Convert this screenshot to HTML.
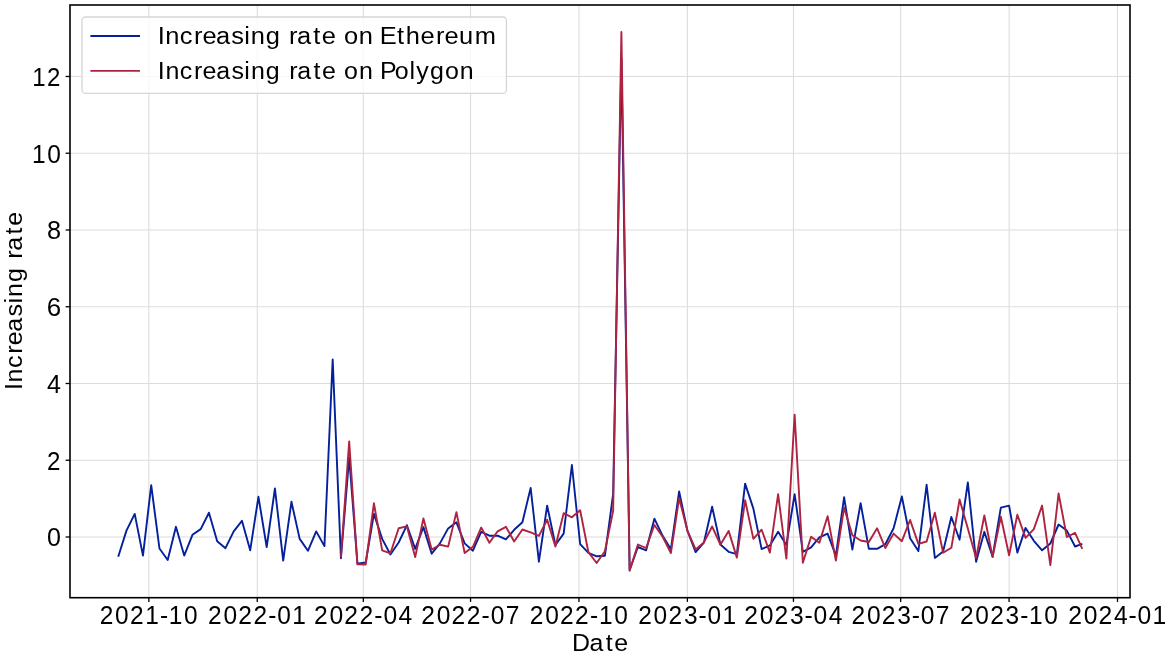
<!DOCTYPE html>
<html><head><meta charset="utf-8"><style>
html,body{margin:0;padding:0;background:#fff;}
body{width:1168px;height:660px;overflow:hidden;position:relative;}
svg{position:absolute;left:0;top:0;will-change:transform;}
text{font-family:"Liberation Sans",sans-serif;font-size:24.5px;fill:#000;}
</style></head><body>
<svg width="1168" height="660" viewBox="0 0 1168 660">
<rect x="0" y="0" width="1168" height="660" fill="#fff"/>
<g stroke="#dcdcdc" stroke-width="1.05">
<line x1="148.85" y1="5.0" x2="148.85" y2="597.7"/>
<line x1="257.26" y1="5.0" x2="257.26" y2="597.7"/>
<line x1="363.32" y1="5.0" x2="363.32" y2="597.7"/>
<line x1="470.55" y1="5.0" x2="470.55" y2="597.7"/>
<line x1="578.97" y1="5.0" x2="578.97" y2="597.7"/>
<line x1="687.38" y1="5.0" x2="687.38" y2="597.7"/>
<line x1="793.44" y1="5.0" x2="793.44" y2="597.7"/>
<line x1="900.67" y1="5.0" x2="900.67" y2="597.7"/>
<line x1="1009.09" y1="5.0" x2="1009.09" y2="597.7"/>
<line x1="1117.50" y1="5.0" x2="1117.50" y2="597.7"/>
<line x1="70.0" y1="537.00" x2="1130.0" y2="537.00"/>
<line x1="70.0" y1="460.25" x2="1130.0" y2="460.25"/>
<line x1="70.0" y1="383.49" x2="1130.0" y2="383.49"/>
<line x1="70.0" y1="306.74" x2="1130.0" y2="306.74"/>
<line x1="70.0" y1="229.98" x2="1130.0" y2="229.98"/>
<line x1="70.0" y1="153.23" x2="1130.0" y2="153.23"/>
<line x1="70.0" y1="76.47" x2="1130.0" y2="76.47"/>
</g>
<g fill="none" stroke-linejoin="round" stroke-linecap="butt" stroke-width="1.9">
<polyline stroke="#05209b" points="118.21,556.70 126.46,530.60 134.71,513.90 142.96,555.60 151.21,485.20 159.46,548.50 167.70,560.00 175.95,526.80 184.20,555.60 192.45,534.80 200.70,529.10 208.95,512.70 217.20,541.20 225.45,548.20 233.70,531.40 241.94,520.80 250.19,550.30 258.44,496.80 266.69,547.00 274.94,488.50 283.19,560.60 291.44,501.80 299.69,538.90 307.93,550.80 316.18,531.40 324.43,546.10 332.68,359.50 340.93,558.20 349.18,457.50 357.43,563.70 365.68,562.50 373.93,513.90 382.17,538.90 390.42,554.50 398.67,542.50 406.92,525.20 415.17,548.90 423.42,527.10 431.67,553.70 439.92,543.40 448.17,528.40 456.41,522.30 464.66,543.40 472.91,550.70 481.16,531.80 489.41,535.70 497.66,535.60 505.91,539.40 514.16,529.80 522.40,522.30 530.65,487.90 538.90,561.70 547.15,505.60 555.40,545.00 563.65,533.60 571.90,465.00 580.15,544.20 588.40,552.90 596.64,556.30 604.89,555.80 613.14,494.00 621.39,58.00 629.64,570.00 637.89,547.00 646.14,550.30 654.39,518.70 662.64,535.80 670.88,549.20 679.13,491.50 687.38,530.60 695.63,552.10 703.88,542.70 712.13,506.80 720.38,544.50 728.63,551.80 736.87,554.10 745.12,483.60 753.37,508.60 761.62,549.10 769.87,545.40 778.12,531.80 786.37,545.00 794.62,494.20 802.87,551.80 811.11,547.30 819.36,537.40 827.61,533.60 835.86,555.60 844.11,497.30 852.36,549.50 860.61,503.20 868.86,548.80 877.11,548.80 885.35,544.20 893.60,528.30 901.85,496.50 910.10,538.20 918.35,551.10 926.60,484.80 934.85,557.90 943.10,551.50 951.34,517.00 959.59,539.70 967.84,482.40 976.09,561.70 984.34,531.80 992.59,556.70 1000.84,507.60 1009.09,505.60 1017.34,552.60 1025.58,527.90 1033.83,540.80 1042.08,550.30 1050.33,543.50 1058.58,524.50 1066.83,530.60 1075.08,546.50 1082.30,543.90"/>
<polyline stroke="#ad2340" points="340.93,557.30 349.18,441.50 357.43,564.20 365.68,564.50 373.93,503.30 382.17,550.30 390.42,553.30 398.67,528.30 406.92,526.40 415.17,557.10 423.42,518.50 431.67,549.60 439.92,544.80 448.17,546.60 456.41,512.10 464.66,553.00 472.91,546.80 481.16,527.50 489.41,542.80 497.66,531.30 505.91,526.80 514.16,541.50 522.40,529.50 530.65,532.40 538.90,535.90 547.15,519.70 555.40,546.50 563.65,513.20 571.90,517.30 580.15,510.30 588.40,552.20 596.64,563.00 604.89,551.30 613.14,510.90 621.39,32.00 629.64,570.80 637.89,544.50 646.14,548.00 654.39,525.00 662.64,536.70 670.88,553.00 679.13,498.20 687.38,530.60 695.63,549.50 703.88,542.40 712.13,526.50 720.38,544.70 728.63,530.90 736.87,557.60 745.12,500.30 753.37,538.90 761.62,529.70 769.87,552.60 778.12,494.20 786.37,558.60 794.62,414.60 802.87,562.70 811.11,536.70 819.36,542.70 827.61,516.20 835.86,560.60 844.11,507.60 852.36,535.30 860.61,540.50 868.86,542.00 877.11,528.30 885.35,548.00 893.60,533.60 901.85,541.20 910.10,520.00 918.35,543.90 926.60,541.50 934.85,512.70 943.10,552.80 951.34,547.80 959.59,499.50 967.84,528.60 976.09,557.90 984.34,515.50 992.59,557.10 1000.84,516.70 1009.09,555.20 1017.34,514.70 1025.58,537.90 1033.83,529.10 1042.08,505.60 1050.33,565.20 1058.58,493.50 1066.83,537.00 1075.08,532.90 1082.30,548.80"/>
</g>
<g stroke="#000" stroke-width="1.3">
<line x1="148.85" y1="597.7" x2="148.85" y2="601.90"/>
<line x1="257.26" y1="597.7" x2="257.26" y2="601.90"/>
<line x1="363.32" y1="597.7" x2="363.32" y2="601.90"/>
<line x1="470.55" y1="597.7" x2="470.55" y2="601.90"/>
<line x1="578.97" y1="597.7" x2="578.97" y2="601.90"/>
<line x1="687.38" y1="597.7" x2="687.38" y2="601.90"/>
<line x1="793.44" y1="597.7" x2="793.44" y2="601.90"/>
<line x1="900.67" y1="597.7" x2="900.67" y2="601.90"/>
<line x1="1009.09" y1="597.7" x2="1009.09" y2="601.90"/>
<line x1="1117.50" y1="597.7" x2="1117.50" y2="601.90"/>
<line x1="65.60" y1="537.00" x2="70.0" y2="537.00"/>
<line x1="65.60" y1="460.25" x2="70.0" y2="460.25"/>
<line x1="65.60" y1="383.49" x2="70.0" y2="383.49"/>
<line x1="65.60" y1="306.74" x2="70.0" y2="306.74"/>
<line x1="65.60" y1="229.98" x2="70.0" y2="229.98"/>
<line x1="65.60" y1="153.23" x2="70.0" y2="153.23"/>
<line x1="65.60" y1="76.47" x2="70.0" y2="76.47"/>
</g>
<rect x="70.0" y="5.0" width="1060.00" height="592.70" fill="none" stroke="#000" stroke-width="1.6"/>
<rect x="82" y="17" width="424.4" height="76.4" rx="3.5" ry="3.5" fill="#fff" fill-opacity="0.8" stroke="#d6d6d6" stroke-width="1.3"/>
<line x1="90.4" y1="35.95" x2="140" y2="35.95" stroke="#05209b" stroke-width="1.9"/>
<line x1="90.4" y1="70.9" x2="140" y2="70.9" stroke="#ad2340" stroke-width="1.9"/>
<text transform="scale(1.0391,1)" x="151.79 159.05 172.93 186.66 194.80 207.91 222.59 234.97 241.34 255.65 270.08 278.16 285.83 301.53 309.74 323.77 330.99 345.27 359.50 365.50 381.99 390.38 404.69 419.53 427.67 441.85 456.94" y="44" style="font-size:24.5px">Increasing rate on Ethereum</text>
<text transform="scale(1.0202,1)" x="154.68 162.13 176.27 190.22 198.55 211.92 226.84 239.39 245.95 260.53 275.17 283.42 291.28 307.21 315.63 329.85 337.27 351.82 366.25 372.59 386.85 401.29 408.01 421.46 436.12 450.66" y="79" style="font-size:24.5px">Increasing rate on Polygon</text>
<text transform="scale(0.9792,1)" x="101.78 117.53 132.65 148.28 163.29 172.46 188.01" y="624.2" style="font-size:25px">2021-10</text>
<text transform="scale(0.9803,1)" x="212.24 227.98 243.07 258.49 273.68 282.96 298.25" y="624.2" style="font-size:25px">2022-01</text>
<text transform="scale(0.9872,1)" x="318.16 333.79 348.78 364.08 379.19 388.39 403.69" y="624.2" style="font-size:25px">2022-04</text>
<text transform="scale(0.9836,1)" x="428.35 444.03 459.08 474.44 489.59 498.83 514.15" y="624.2" style="font-size:25px">2022-07</text>
<text transform="scale(0.9803,1)" x="540.41 556.14 571.23 586.65 601.84 611.00 626.54" y="624.2" style="font-size:25px">2022-10</text>
<text transform="scale(0.9797,1)" x="651.43 667.17 682.28 698.05 712.90 722.19 737.49" y="624.2" style="font-size:25px">2023-01</text>
<text transform="scale(0.9865,1)" x="754.39 770.03 785.03 800.70 815.46 824.67 839.98" y="624.2" style="font-size:25px">2023-04</text>
<text transform="scale(0.9830,1)" x="866.22 881.91 896.97 912.69 927.50 936.75 952.07" y="624.2" style="font-size:25px">2023-07</text>
<text transform="scale(0.9797,1)" x="979.81 995.55 1010.66 1026.43 1041.28 1050.45 1065.99" y="624.2" style="font-size:25px">2023-10</text>
<text transform="scale(0.9861,1)" x="1083.34 1098.98 1113.98 1129.62 1144.43 1153.64 1168.84" y="624.2" style="font-size:25px">2024-01</text>
<text transform="scale(1.0014,1)" x="47.03" y="546.30" style="font-size:25px">0</text>
<text transform="scale(0.9653,1)" x="48.73" y="469.55" style="font-size:25px">2</text>
<text transform="scale(1.0016,1)" x="47.02" y="392.79" style="font-size:25px">4</text>
<text transform="scale(1.0365,1)" x="45.20" y="316.04" style="font-size:25px">6</text>
<text transform="scale(1.0123,1)" x="46.45" y="239.28" style="font-size:25px">8</text>
<text transform="scale(0.9801,1)" x="32.66 48.20" y="162.53" style="font-size:25px">10</text>
<text transform="scale(0.9610,1)" x="33.46 48.98" y="85.77" style="font-size:25px">12</text>
<text transform="scale(1.0183,1)" x="561.64 578.88 594.83 603.27" y="651" style="font-size:24.5px">Date</text>
<text transform="translate(21.8,0) rotate(-90) scale(1.0257,1)" x="-380.29 -372.89 -358.83 -344.94 -336.67 -323.38 -308.52 -296.02 -289.52 -275.02 -260.45 -252.24 -244.44 -228.58 -220.22" y="0" style="font-size:24.5px">Increasing rate</text>
</svg>
</body></html>
